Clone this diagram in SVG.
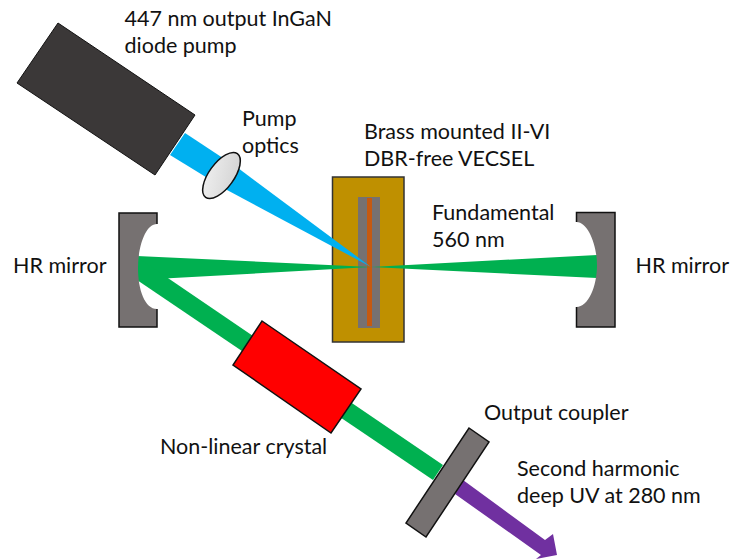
<svg xmlns="http://www.w3.org/2000/svg" width="730" height="560" viewBox="0 0 730 560">
<defs>
<linearGradient id="lens" x1="0" y1="0" x2="1" y2="1"><stop offset="0" stop-color="#f2f2f2"/><stop offset="1" stop-color="#d0d0d0"/></linearGradient>
</defs>
<style>
text{font-family:"Lato","Liberation Sans",sans-serif;font-size:21.5px;fill:#111}
.dark{stroke:#111;stroke-width:1.5}
.grey{fill:#767171}
.green{fill:#00b050}
</style>
<rect width="730" height="560" fill="#fff"/>
<g id="brass-mount"><rect x="332.5" y="177" width="71.5" height="165" fill="#bf9000" stroke="#333" stroke-width="1.5"/><rect x="358" y="197" width="22" height="131" class="grey"/><rect x="367" y="198" width="5" height="128" fill="#c55a11"/></g>
<g id="connectors">
<polygon points="185,133 238,168 371,267 227,190 170,155" fill="#00b0f0"/>
<polygon points="137,256 371,267 137,280" class="green"/>
<polygon points="597,255 371,267 597,278" class="green"/>
<polygon points="137,257 443,465 433,480 137,280" class="green"/>
<polygon points="463,480 545,540 553,534 557,555 536,559 541,555 455,494" fill="#7030a0"/>
</g>
<g id="pump"><polygon points="58,23 195,115 155,175 17,83" fill="#3b3838" stroke="#111" stroke-width="1"/></g>
<g id="lens-group"><ellipse cx="221.5" cy="175.5" rx="27" ry="12.5" transform="rotate(-54 221.5 175.5)" fill="url(#lens)" stroke="#111" stroke-width="1.5"/></g>
<g id="mirror-left"><path d="M119,213H157V224C145,224 138,248 138,268C138,290 145,309 157,309V327H119Z" class="grey"/><path d="M157,224V213H119V327H157V309" class="dark" fill="none"/></g>
<g id="mirror-right"><path d="M615,212.5H576.5V222C588,222 597,245 597,265C597,287 588,307 576.5,307V327H615Z" class="grey"/><path d="M576.5,222V212.5H615V327H576.5V307" class="dark" fill="none"/></g>
<g id="crystal"><polygon points="262,321 361,389 331,433 233,365" fill="#f00" class="dark"/></g>
<g id="coupler"><polygon points="469,428 489,442 426,537 406,523" class="grey dark"/></g>
<g id="labels">
<text x="124.5" y="26">447 nm output InGaN</text>
<text x="124.5" y="53">diode pump</text>
<text x="242" y="126">Pump</text>
<text x="242" y="153">optics</text>
<text x="364" y="139">Brass mounted II-VI</text>
<text x="364" y="166">DBR-free VECSEL</text>
<text x="432" y="220">Fundamental</text>
<text x="432" y="247">560 nm</text>
<text x="13" y="273">HR mirror</text>
<text x="635.5" y="273">HR mirror</text>
<text x="160" y="454">Non-linear crystal</text>
<text x="484" y="420">Output coupler</text>
<text x="517" y="476">Second harmonic</text>
<text x="517" y="503">deep UV at 280 nm</text>
</g>
</svg>
